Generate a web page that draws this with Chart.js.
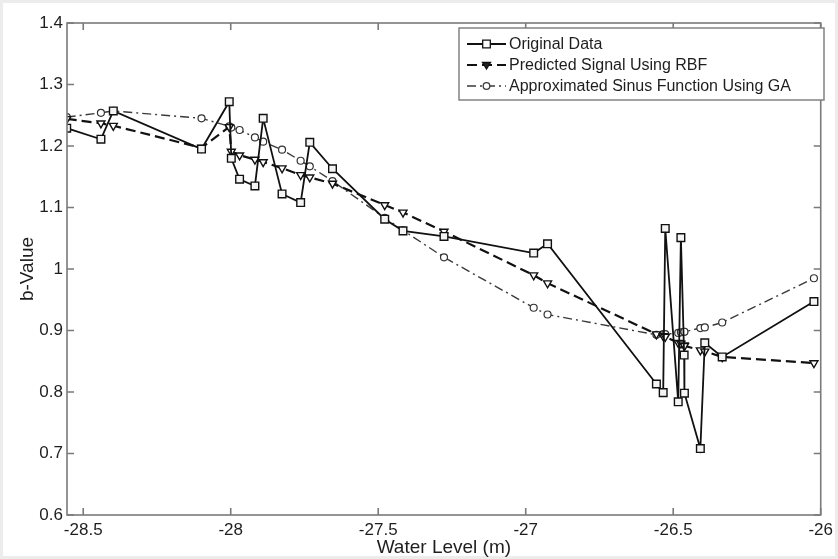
<!DOCTYPE html>
<html>
<head>
<meta charset="utf-8">
<script src="https://cdn.jsdelivr.net/npm/chart.js@4/dist/chart.umd.min.js"></script>
<style>
  body { margin: 0; background: #fff; }
  #wrap { width: 838px; height: 559px; }
</style>
</head>
<body>
<div id="wrap"><canvas id="myChart" width="838" height="559"></canvas></div>
<script>
// values
const waterLevel = [-28.556, -28.556, -28.44, -28.398, -28.099, -28.005, -27.998, -27.97, -27.918, -27.89,
  -27.826, -27.763, -27.732, -27.655, -27.478, -27.416, -27.277, -26.973, -26.926, -26.557,
  -26.534, -26.527, -26.483, -26.474, -26.463, -26.462, -26.408, -26.393, -26.334, -26.023]
const originalData = [1.244, 1.229, 1.211, 1.257, 1.195, 1.272, 1.180, 1.146, 1.135, 1.245,
  1.122, 1.108, 1.206, 1.163, 1.081, 1.062, 1.053, 1.026, 1.041, 0.813,
  0.799, 1.066, 0.784, 1.051, 0.860, 0.798, 0.708, 0.880, 0.857, 0.947]
const rbfData = [1.244, 1.244, 1.237, 1.233, 1.197, 1.231, 1.191, 1.185, 1.178, 1.174,
  1.164, 1.153, 1.149, 1.139, 1.104, 1.092, 1.061, 0.990, 0.977, 0.894,
  0.891, 0.890, 0.880, 0.879, 0.876, 0.875, 0.868, 0.866, 0.857, 0.847]
const gaData = [1.247, 1.247, 1.254, 1.257, 1.245, 1.232, 1.230, 1.226, 1.214, 1.207,
  1.194, 1.176, 1.167, 1.143, 1.083, 1.063, 1.019, 0.937, 0.926, 0.893,
  0.894, 0.894, 0.896, 0.897, 0.898, 0.898, 0.904, 0.905, 0.913, 0.985]
const seriesNames = ['Original Data', 'Predicted Signal Using RBF', 'Approximated Sinus Function Using GA']
const xTicks = [-28.5, -28, -27.5, -27, -26.5, -26]
const yTicks = [0.6, 0.7, 0.8, 0.9, 1, 1.1, 1.2, 1.3, 1.4]

function pts(vals) {
  return waterLevel.map((x, i) => ({x: x, y: vals[i]}))
}

const axisColor = '#7a7a7a'
const txtColor = '#1e1e1e'
const fontFam = '"Liberation Sans", Arial, sans-serif'

// white page + light gray frame
const bgPlugin = {
  id: 'bg',
  beforeDraw(chart) {
    const c = chart.ctx
    c.save()
    c.fillStyle = '#fff'
    c.fillRect(0, 0, chart.width, chart.height)
    c.strokeStyle = '#ececec'
    c.lineWidth = 6
    c.strokeRect(0, 0, chart.width, chart.height)
    c.restore()
  }
}

// matlab style box with inward ticks
const boxPlugin = {
  id: 'box',
  afterDatasetsDraw(chart) {
    const c = chart.ctx
    const a = chart.chartArea
    const xs = chart.scales.x, ys = chart.scales.y
    c.save()
    c.strokeStyle = axisColor
    c.lineWidth = 1.6
    c.beginPath()
    xTicks.forEach(v => {
      const p = xs.getPixelForValue(v)
      c.moveTo(p, a.bottom); c.lineTo(p, a.bottom - 7)
      c.moveTo(p, a.top); c.lineTo(p, a.top + 7)
    })
    yTicks.forEach(v => {
      const p = ys.getPixelForValue(v)
      c.moveTo(a.left, p); c.lineTo(a.left + 7, p)
      c.moveTo(a.right, p); c.lineTo(a.right - 7, p)
    })
    c.stroke()
    c.strokeRect(a.left, a.top, a.right - a.left, a.bottom - a.top)
    c.restore()
  }
}

function marker(c, kind, x, y) {
  c.beginPath()
  if (kind == 'rect') {
    c.rect(x - 3.8, y - 3.8, 7.6, 7.6)
  } else if (kind == 'triangle') {
    c.moveTo(x - 4, y - 2.5); c.lineTo(x + 4, y - 2.5); c.lineTo(x, y + 4)
    c.closePath()
  } else {
    c.arc(x, y, 3.3, 0, Math.PI * 2)
  }
  c.fill(); c.stroke()
}

const legendPlugin = {
  id: 'myLegend',
  afterDraw(chart) {
    const c = chart.ctx
    c.save()
    c.fillStyle = '#fff'
    c.fillRect(459, 28, 365, 72)
    c.strokeStyle = axisColor
    c.lineWidth = 1.4
    c.strokeRect(459, 28, 365, 72)
    const rows = [44, 65, 86]
    chart.data.datasets.forEach((ds, i) => {
      const y = rows[i]
      c.strokeStyle = ds.borderColor
      c.lineWidth = ds.borderWidth
      c.setLineDash(ds.borderDash || [])
      c.beginPath(); c.moveTo(467, y); c.lineTo(506, y); c.stroke()
      c.setLineDash([])
      c.lineWidth = 1.3
      c.fillStyle = i == 1 ? '#222' : '#fff'
      marker(c, ds.pointStyle, 486.5, y)
      c.fillStyle = txtColor
      c.font = '16px ' + fontFam
      c.textBaseline = 'middle'
      c.fillText(seriesNames[i], 509, y + 1)
    })
    c.restore()
  }
}

const data = {
  datasets: [{
    label: seriesNames[0],
    data: pts(originalData),
    borderColor: '#111',
    borderWidth: 1.8,
    pointStyle: 'rect',
    pointRadius: 5.4,
    pointBorderWidth: 1.4,
    pointBackgroundColor: '#f4f4f4',
    pointBorderColor: '#111',
    showLine: true,
    tension: 0
  }, {
    label: seriesNames[1],
    data: pts(rbfData),
    borderColor: '#111',
    borderWidth: 2.2,
    borderDash: [10, 5],
    pointStyle: 'triangle',
    pointRotation: 180,
    pointRadius: 4.6,
    pointBorderWidth: 1.4,
    pointBackgroundColor: '#fff',
    pointBorderColor: '#111',
    showLine: true,
    tension: 0
  }, {
    label: seriesNames[2],
    data: pts(gaData),
    borderColor: '#3a3a3a',
    borderWidth: 1.4,
    borderDash: [9, 4, 2, 4],
    pointStyle: 'circle',
    pointRadius: 3.5,
    pointBorderWidth: 1.2,
    pointBackgroundColor: '#fff',
    pointBorderColor: '#333',
    showLine: true,
    tension: 0
  }]
}

const config = {
  type: 'scatter',
  data: data,
  options: {
    responsive: false,
    animation: false,
    layout: {padding: {top: 23, right: 10, left: 0, bottom: 0}},
    plugins: {legend: {display: false}, tooltip: {enabled: false}},
    scales: {
      x: {
        type: 'linear',
        min: -28.555,
        max: -26,
        afterBuildTicks: s => { s.ticks = xTicks.map(v => ({value: v})) },
        afterFit: s => { s.height = 44 },
        grid: {display: false, drawTicks: false},
        border: {display: false},
        ticks: {
          color: txtColor,
          padding: 5,
          font: {size: 17, family: fontFam},
          callback: v => String(v)
        },
        title: {
          display: true,
          text: 'Water Level (m)',
          color: txtColor,
          padding: {top: 0, bottom: 0},
          font: {size: 19, family: fontFam}
        }
      },
      y: {
        min: 0.6,
        max: 1.4,
        afterBuildTicks: s => { s.ticks = yTicks.map(v => ({value: v})) },
        afterFit: s => { s.width = 67 },
        grid: {display: false, drawTicks: false},
        border: {display: false},
        ticks: {
          color: txtColor,
          padding: 4,
          font: {size: 17, family: fontFam},
          callback: v => String(Math.round(v * 10) / 10)
        },
        title: {
          display: true,
          text: 'b-Value',
          color: txtColor,
          padding: {top: 16, bottom: 0},
          font: {size: 19, family: fontFam}
        }
      }
    }
  },
  plugins: [bgPlugin, boxPlugin, legendPlugin]
}

let myChart = new Chart(document.getElementById('myChart'), config)
</script>
</body>
</html>
